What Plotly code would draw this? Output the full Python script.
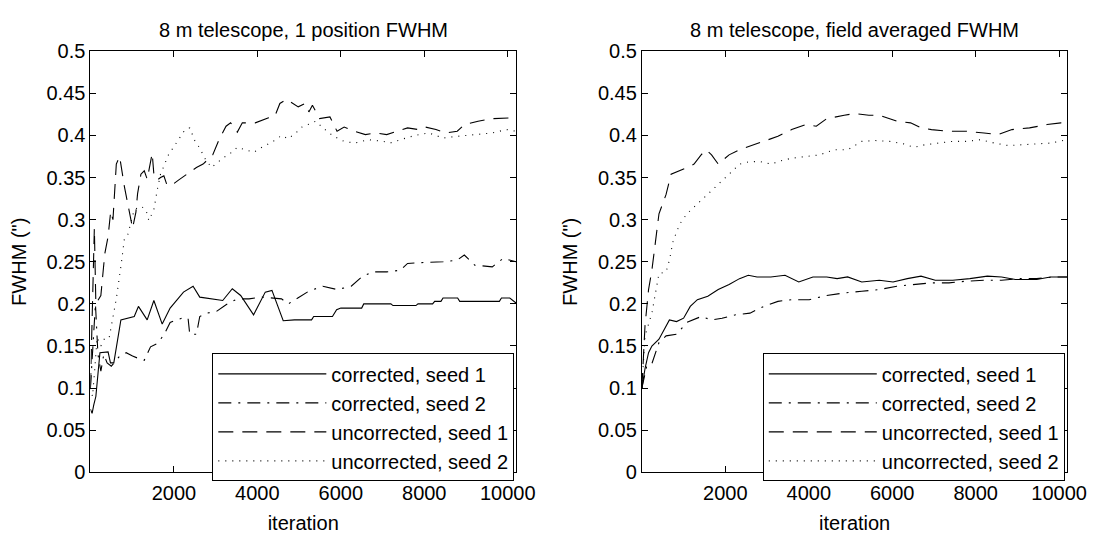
import plotly.graph_objects as go

# ---------------- data: left panel (1 position FWHM) ----------------
L_cs1_x = [0, 40, 80, 130, 228, 423, 480, 560, 730, 1050, 1150, 1360, 1520, 1720, 1910, 2230, 2460, 2620, 3170,
           3400, 3600, 3910, 4190, 4350, 4620, 4890, 5300, 5350, 5800, 5900, 6000, 6500, 6550, 7200, 7250, 7800,
           7850, 8200, 8250, 8400, 8450, 8800, 8850, 9800, 9850, 10050, 10200]
L_cs1_y = [0.075, 0.07, 0.08, 0.09, 0.142, 0.143, 0.13, 0.13, 0.181, 0.185, 0.197, 0.181, 0.204, 0.176, 0.195,
           0.214, 0.221, 0.208, 0.204, 0.218, 0.21, 0.187, 0.214, 0.216, 0.18, 0.181, 0.181, 0.185, 0.185, 0.193,
           0.195, 0.195, 0.2, 0.2, 0.198, 0.198, 0.2, 0.2, 0.203, 0.203, 0.207, 0.207, 0.203, 0.203, 0.207, 0.207, 0.201]

L_cs2_x = [0, 60, 120, 180, 250, 320, 400, 500, 700, 855, 1010, 1210, 1290, 1440, 1600, 1760, 1910, 2070, 2190,
           2340, 2380, 2540, 2620, 2780, 3020, 3250, 3520, 3800, 4110, 4580, 4740, 4970, 5230, 5570, 5910, 6250,
           6500, 6760, 7100, 7430, 7600, 7940, 8450, 8790, 8960, 9210, 9630, 9890, 10200]
L_cs2_y = [0.1, 0.15, 0.2, 0.14, 0.12, 0.14, 0.13, 0.126, 0.138, 0.142, 0.138, 0.134, 0.133, 0.149, 0.153, 0.163,
           0.178, 0.181, 0.183, 0.183, 0.164, 0.164, 0.185, 0.189, 0.191, 0.199, 0.206, 0.206, 0.208, 0.206, 0.2,
           0.207, 0.215, 0.221, 0.217, 0.221, 0.232, 0.238, 0.238, 0.24, 0.248, 0.249, 0.25, 0.252, 0.258, 0.246,
           0.244, 0.254, 0.25]

L_us1_x = [0, 50, 94, 130, 250, 345, 423, 486, 540, 620, 700, 815, 930, 1010, 1090, 1130, 1210, 1290, 1360, 1480,
           1520, 1600, 1680, 1760, 1835, 1950, 2110, 2300, 2540, 2700, 2930, 3090, 3250, 3360, 3520, 3640, 3950,
           4270, 4420, 4540, 4700, 4980, 5150, 5235, 5320, 5490, 5740, 5910, 6080, 6330, 6590, 6840, 7100, 7350,
           7600, 7860, 8030, 8280, 8530, 8790, 8960, 9290, 9630, 10200]
L_us1_y = [0.1, 0.2, 0.29, 0.2, 0.21, 0.26, 0.28, 0.31, 0.3, 0.366, 0.375, 0.339, 0.309, 0.29, 0.309, 0.331, 0.354,
           0.358, 0.348, 0.379, 0.354, 0.347, 0.35, 0.352, 0.341, 0.341, 0.347, 0.354, 0.362, 0.366, 0.377, 0.396,
           0.411, 0.415, 0.404, 0.415, 0.415, 0.421, 0.423, 0.438, 0.443, 0.434, 0.438, 0.428, 0.436, 0.42, 0.422,
           0.405, 0.41, 0.405, 0.401, 0.403, 0.401, 0.405, 0.409, 0.407, 0.41, 0.407, 0.403, 0.405, 0.413, 0.417,
           0.42, 0.421]

L_us2_x = [0, 50, 100, 160, 250, 350, 450, 520, 620, 740, 815, 895, 1050, 1210, 1330, 1400, 1520, 1600, 1680, 1870,
           2070, 2270, 2380, 2500, 2620, 2740, 2900, 3020, 3170, 3360, 3520, 3720, 3910, 4110, 4350, 4580, 4740,
           4970, 5070, 5400, 5570, 5830, 6080, 6330, 6670, 7010, 7180, 7430, 7770, 8110, 8450, 8790, 9210, 9630,
           9970, 10200]
L_us2_y = [0.1, 0.09, 0.12, 0.16, 0.15, 0.16, 0.16, 0.18, 0.206, 0.248, 0.278, 0.282, 0.312, 0.316, 0.312, 0.299,
           0.312, 0.335, 0.354, 0.377, 0.392, 0.407, 0.409, 0.394, 0.385, 0.373, 0.362, 0.367, 0.373, 0.379, 0.386,
           0.383, 0.38, 0.386, 0.392, 0.4, 0.396, 0.405, 0.41, 0.417, 0.409, 0.399, 0.393, 0.391, 0.395, 0.393,
           0.391, 0.395, 0.4, 0.403, 0.397, 0.399, 0.401, 0.403, 0.407, 0.405]

# ---------------- data: right panel (field averaged FWHM) ----------------
R_cs1_x = [0, 75, 160, 240, 410, 580, 660, 830, 1000, 1160, 1330, 1580, 1830, 2090, 2340, 2550, 2760, 3090, 3430,
           3760, 4100, 4430, 4680, 4930, 5270, 5690, 6020, 6360, 6690, 7030, 7450, 7860, 8280, 8620, 8950, 9460,
           9790, 10200]
R_cs1_y = [0.1, 0.123, 0.142, 0.15, 0.158, 0.174, 0.181, 0.179, 0.183, 0.197, 0.205, 0.209, 0.217, 0.223, 0.23,
           0.234, 0.232, 0.232, 0.234, 0.226, 0.232, 0.232, 0.23, 0.232, 0.226, 0.228, 0.226, 0.23, 0.233, 0.228,
           0.228, 0.23, 0.233, 0.232, 0.229, 0.229, 0.232, 0.232]

R_cs2_x = [0, 120, 240, 410, 580, 830, 1080, 1420, 1670, 1920, 2250, 2590, 2920, 3260, 3590, 4010, 4430, 4850,
           5270, 5690, 6110, 6520, 6940, 7360, 7780, 8200, 8620, 9040, 9460, 9870, 10200]
R_cs2_y = [0.1, 0.127, 0.129, 0.154, 0.162, 0.164, 0.178, 0.185, 0.181, 0.183, 0.187, 0.189, 0.197, 0.203, 0.205,
           0.205, 0.21, 0.213, 0.215, 0.217, 0.221, 0.223, 0.225, 0.225, 0.227, 0.228, 0.228, 0.23, 0.23, 0.232,
           0.232]

R_us1_x = [0, 75, 160, 240, 410, 580, 700, 910, 1080, 1250, 1420, 1540, 1670, 1830, 2090, 2340, 2670, 2920, 3260,
           3590, 3930, 4180, 4430, 4850, 5100, 5440, 5690, 6110, 6440, 6690, 6940, 7360, 7780, 8200, 8530, 8870,
           9290, 9710, 10040, 10200]
R_us1_y = [0.1, 0.174, 0.217, 0.24, 0.307, 0.33, 0.354, 0.358, 0.362, 0.366, 0.377, 0.383, 0.377, 0.366, 0.377,
           0.383, 0.389, 0.393, 0.399, 0.407, 0.413, 0.411, 0.42, 0.424, 0.426, 0.424, 0.424, 0.417, 0.415, 0.409,
           0.407, 0.405, 0.405, 0.403, 0.401, 0.407, 0.409, 0.413, 0.415, 0.413]

R_us2_x = [0, 75, 240, 330, 410, 580, 660, 750, 910, 1080, 1330, 1580, 1830, 2090, 2340, 2590, 2840, 3090, 3340,
           3590, 3930, 4260, 4600, 4930, 5270, 5600, 5940, 6270, 6520, 6780, 7110, 7450, 7780, 8110, 8450, 8790,
           9120, 9460, 9790, 10200]
R_us2_y = [0.1, 0.162, 0.189, 0.213, 0.236, 0.238, 0.252, 0.275, 0.295, 0.307, 0.319, 0.33, 0.342, 0.354, 0.366,
           0.369, 0.369, 0.366, 0.37, 0.373, 0.375, 0.377, 0.383, 0.383, 0.393, 0.394, 0.393, 0.39, 0.386, 0.389,
           0.391, 0.393, 0.393, 0.395, 0.391, 0.388, 0.389, 0.39, 0.391, 0.395]

series_names = ["corrected, seed 1", "corrected, seed 2", "uncorrected, seed 1", "uncorrected, seed 2"]
titles = ["8 m telescope, 1 position FWHM", "8 m telescope, field averaged FWHM"]
x_ticks = [2000, 4000, 6000, 8000, 10000]
y_ticks = [0, 0.05, 0.1, 0.15, 0.2, 0.25, 0.3, 0.35, 0.4, 0.45, 0.5]
y_tick_text = ["0", "0.05", "0.1", "0.15", "0.2", "0.25", "0.3", "0.35", "0.4", "0.45", "0.5"]

dashes = ["solid", "13px,7px,2px,7px", "15px,9px", "1px,6px"]
FONT = "Liberation Sans, Arial, Helvetica, sans-serif"
TS = 20  # tick / label font size

fig = go.Figure()
panels = [
    [(L_cs1_x, L_cs1_y), (L_cs2_x, L_cs2_y), (L_us1_x, L_us1_y), (L_us2_x, L_us2_y)],
    [(R_cs1_x, R_cs1_y), (R_cs2_x, R_cs2_y), (R_us1_x, R_us1_y), (R_us2_x, R_us2_y)],
]
for p, panel in enumerate(panels):
    for i, (xs, ys) in enumerate(panel):
        fig.add_trace(go.Scatter(
            x=xs, y=ys, mode="lines", name=series_names[i],
            line=dict(color="black", width=1.1, dash=dashes[i], shape="linear"),
            xaxis="x" if p == 0 else "x2", yaxis="y" if p == 0 else "y2",
            legend="legend" if p == 0 else "legend2",
        ))

W, H = 1115, 537
dom_l = [92 / W, 525 / W]
dom_r = [653 / W, 1086 / W]
dom_y = [1 - 481 / H, 1 - 42 / H]

def xax(dom, anchor):
    return dict(domain=dom, anchor=anchor, range=[0, 10200], tickvals=x_ticks, ticktext=[str(v) for v in x_ticks],
                ticks="inside", ticklen=6, tickcolor="black", showline=True, linecolor="black", linewidth=1,
                mirror="ticks", showgrid=False, zeroline=False, ticklabelstandoff=3,
                tickfont=dict(family=FONT, size=TS, color="black"),
                title=dict(text="iteration", font=dict(family=FONT, size=TS, color="black"), standoff=12))

def yax(anchor):
    return dict(domain=dom_y, anchor=anchor, range=[0, 0.5], tickvals=y_ticks, ticktext=y_tick_text,
                ticks="inside", ticklen=6, tickcolor="black", showline=True, linecolor="black", linewidth=1,
                mirror="ticks", showgrid=False, zeroline=False,
                tickfont=dict(family=FONT, size=TS, color="black"),
                title=dict(text="FWHM (\")", font=dict(family=FONT, size=TS, color="black"), standoff=14))

def leg(x0):
    return dict(x=x0, y=1 - 357 / H, xanchor="left", yanchor="top", xref="paper", yref="paper",
                bgcolor="white", bordercolor="black", borderwidth=1, itemwidth=108,
                font=dict(family=FONT, size=20, color="black"), tracegroupgap=0)

fig.update_layout(
    width=W, height=H, margin=dict(l=0, r=0, t=0, b=0),
    paper_bgcolor="white", plot_bgcolor="white", showlegend=True,
    xaxis=xax(dom_l, "y"), yaxis=yax("x"),
    xaxis2=xax(dom_r, "y2"), yaxis2=yax("x2"),
    legend=leg(216 / W), legend2=leg(776 / W),
    annotations=[
        dict(text=titles[0], x=sum(dom_l) / 2, y=1 - 20 / H, xref="paper", yref="paper", showarrow=False,
             xanchor="center", yanchor="middle", font=dict(family=FONT, size=TS, color="black")),
        dict(text=titles[1], x=sum(dom_r) / 2, y=1 - 20 / H, xref="paper", yref="paper", showarrow=False,
             xanchor="center", yanchor="middle", font=dict(family=FONT, size=TS, color="black")),
    ],
)

fig.write_html("out.html")
